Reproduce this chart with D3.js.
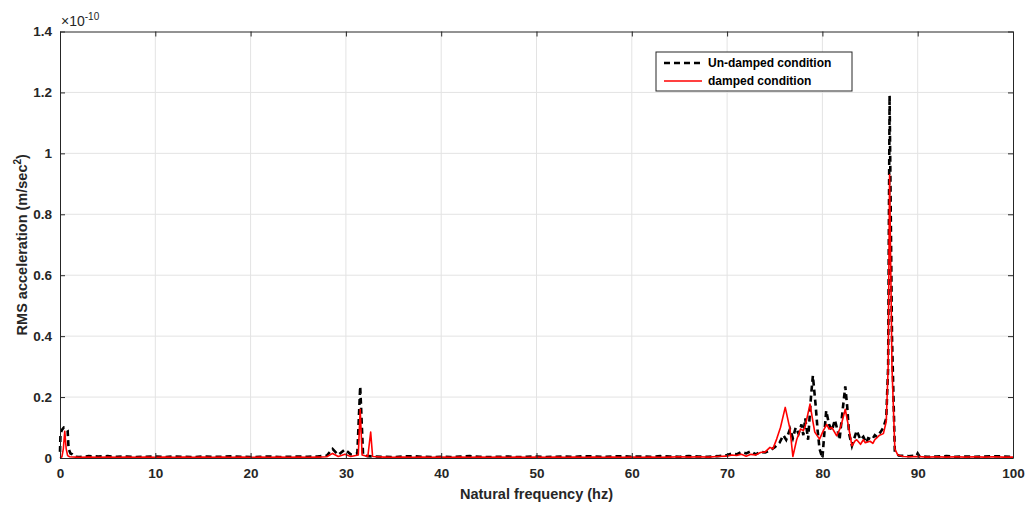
<!DOCTYPE html>
<html>
<head>
<meta charset="utf-8">
<script src="https://cdn.jsdelivr.net/npm/d3@7"></script>
<style>
  body { margin: 0; background: #fff; }
  svg { font-family: "Liberation Sans", Arial, sans-serif; }
</style>
</head>
<body>
<div id="chart"></div>
<script>
// RMS acceleration spectra, values in units of 1e-10 m/sec^2, [hz, value]
const undamped = [
  [0, 0.02], [0.05, 0.08], [0.2, 0.092], [0.4, 0.1], [0.6, 0.098], [0.8, 0.09], [0.9, 0.03], [1.1, 0.015],
  [1.3, 0.012], [1.6, 0.004],
  [2, 0.003], [3, 0.006], [4, 0.005], [5, 0.006], [6, 0.004], [7, 0.005], [8, 0.003], [9, 0.004], [10, 0.005],
  [11, 0.003], [12, 0.005], [13, 0.004], [14, 0.003], [15, 0.005], [16, 0.004], [17, 0.004], [18, 0.006], [19, 0.004],
  [20, 0.003], [21, 0.004], [22, 0.005], [23, 0.003], [24, 0.004], [25, 0.005], [26, 0.004], [27, 0.005], [28, 0.008],
  [28.6, 0.03], [29.2, 0.01], [29.9, 0.028], [30.5, 0.012], [31.2, 0.015], [31.5, 0.235], [31.8, 0.01], [32.3, 0.006],
  [33, 0.005], [34, 0.004], [35, 0.003], [36, 0.005], [37, 0.006], [38, 0.004], [39, 0.003], [40, 0.004],
  [41, 0.003], [42, 0.005], [43, 0.006], [44, 0.004], [45, 0.003], [46, 0.004], [47, 0.005], [48, 0.003],
  [49, 0.004], [50, 0.005], [51, 0.003], [52, 0.004], [53, 0.005], [54, 0.004], [55, 0.006], [56, 0.005],
  [57, 0.004], [58, 0.005], [59, 0.006], [60, 0.004], [61, 0.005], [62, 0.004], [63, 0.006], [64, 0.005],
  [65, 0.004], [66, 0.006], [67, 0.005], [68, 0.004], [69, 0.006],
  [70, 0.01], [70.5, 0.015], [71, 0.012], [71.5, 0.02], [72, 0.015], [72.5, 0.022], [73, 0.012], [73.5, 0.02],
  [74, 0.018], [74.5, 0.025], [75, 0.035], [75.5, 0.05], [75.9, 0.075], [76.2, 0.06], [76.6, 0.095], [76.9, 0.065],
  [77.2, 0.1], [77.5, 0.08], [77.8, 0.11], [78.0, 0.075], [78.2, 0.13], [78.5, 0.06], [78.8, 0.2], [79.0, 0.27],
  [79.3, 0.17], [79.5, 0.09], [79.7, 0.03], [80.0, 0.0], [80.2, 0.08], [80.4, 0.155], [80.7, 0.11], [81.0, 0.09],
  [81.3, 0.125], [81.6, 0.09], [81.8, 0.06], [82.1, 0.15], [82.4, 0.235], [82.6, 0.17], [82.8, 0.08], [83.1, 0.04],
  [83.4, 0.07], [83.6, 0.09], [84.0, 0.06], [84.3, 0.07], [84.6, 0.05], [84.8, 0.065], [85.2, 0.06], [85.5, 0.075],
  [85.7, 0.07], [86.1, 0.085], [86.4, 0.1], [86.7, 0.13],
  [86.9, 0.3], [87.05, 1.19], [87.3, 0.4], [87.6, 0.02], [88, 0.008], [89, 0.006], [89.9, 0.008], [90.0, 0.015],
  [90.2, 0.005], [91, 0.004], [92, 0.005], [93, 0.006], [94, 0.004], [95, 0.005], [96, 0.004], [97, 0.005],
  [98, 0.006], [99, 0.005], [100, 0.004]
];

const damped = [
  [0, 0.0], [0.2, 0.004], [0.35, 0.03], [0.5, 0.088], [0.65, 0.03], [0.8, 0.008], [1.0, 0.004],
  [2, 0.002], [3, 0.003], [4, 0.002], [5, 0.003], [6, 0.002], [7, 0.003], [8, 0.002], [9, 0.003], [10, 0.002],
  [11, 0.003], [12, 0.002], [13, 0.003], [14, 0.002], [15, 0.003], [16, 0.002], [17, 0.003], [18, 0.002],
  [19, 0.003], [20, 0.002], [21, 0.003], [22, 0.002], [23, 0.003], [24, 0.002], [25, 0.003], [26, 0.002],
  [27, 0.003], [28, 0.004], [28.6, 0.015], [29.2, 0.005], [29.9, 0.012], [30.5, 0.005], [31.3, 0.01],
  [31.5, 0.16], [31.7, 0.01], [32.3, 0.005], [32.6, 0.085], [32.8, 0.005],
  [34, 0.003], [35, 0.002], [36, 0.003], [37, 0.002], [38, 0.003], [39, 0.002], [40, 0.003], [41, 0.002],
  [42, 0.003], [43, 0.002], [44, 0.003], [45, 0.002], [46, 0.003], [47, 0.002], [48, 0.003], [49, 0.002],
  [50, 0.003], [51, 0.002], [52, 0.003], [53, 0.002], [54, 0.003], [55, 0.002], [56, 0.003], [57, 0.002],
  [58, 0.003], [59, 0.002], [60, 0.003], [61, 0.002], [62, 0.003], [63, 0.002], [64, 0.003], [65, 0.004],
  [66, 0.003], [67, 0.004], [68, 0.003], [69, 0.005],
  [70, 0.006], [70.5, 0.01], [71, 0.008], [71.5, 0.012], [72, 0.006], [72.5, 0.012], [73, 0.01], [73.5, 0.018],
  [74, 0.02], [74.5, 0.035], [74.8, 0.03], [75.2, 0.062], [75.6, 0.1], [76.1, 0.166], [76.6, 0.095], [76.9, 0.005],
  [77.3, 0.06], [77.7, 0.095], [78.0, 0.09], [78.2, 0.105], [78.7, 0.177], [79.0, 0.12], [79.2, 0.085], [79.7, 0.062],
  [80.1, 0.09], [80.45, 0.11], [80.7, 0.095], [81.0, 0.1], [81.5, 0.073], [81.9, 0.1], [82.4, 0.16], [82.7, 0.11],
  [83.1, 0.04], [83.4, 0.055], [83.6, 0.06], [84.0, 0.045], [84.3, 0.06], [84.5, 0.05], [85.0, 0.055], [85.3, 0.048],
  [85.5, 0.06], [86.0, 0.075], [86.4, 0.08], [86.7, 0.12],
  [86.9, 0.3], [87.05, 0.93], [87.3, 0.3], [87.6, 0.03], [87.9, 0.01], [88.5, 0.005], [89, 0.004], [90, 0.005],
  [91, 0.003], [92, 0.004], [93, 0.003], [94, 0.004], [95, 0.003], [96, 0.004], [97, 0.003], [98, 0.004],
  [99, 0.003], [100, 0.003]
];

const xTicks = [0, 10, 20, 30, 40, 50, 60, 70, 80, 90, 100];
const yTicks = [0, 0.2, 0.4, 0.6, 0.8, 1, 1.2, 1.4];
const seriesNames = ["Un-damped condition", "damped condition"];

const width = 1027, height = 509;
const margin = { top: 31.5, right: 14, bottom: 51, left: 60 };
const innerW = width - margin.left - margin.right;
const innerH = height - margin.top - margin.bottom;
const axisColor = "#262626";

const svg = d3.select("#chart").append("svg")
    .attr("width", width)
    .attr("height", height);

const g = svg.append("g")
    .attr("transform", `translate(${margin.left},${margin.top})`);

const x = d3.scaleLinear().domain([0, 100]).range([0, innerW]);
const y = d3.scaleLinear().domain([0, 1.4]).range([innerH, 0]);

// grid
g.append("g").selectAll("line")
    .data(xTicks.slice(1, -1))
    .enter().append("line")
    .attr("x1", d => x(d)).attr("x2", d => x(d))
    .attr("y1", 0).attr("y2", innerH)
    .attr("stroke", "#e3e3e3");

g.append("g").selectAll("line")
    .data(yTicks.slice(1, -1))
    .enter().append("line")
    .attr("x1", 0).attr("x2", innerW)
    .attr("y1", d => y(d)).attr("y2", d => y(d))
    .attr("stroke", "#e3e3e3");

// lines
const line = d3.line()
    .x(d => x(d[0]))
    .y(d => y(d[1]));

g.append("path")
    .datum(undamped)
    .attr("fill", "none")
    .attr("stroke", "#000")
    .attr("stroke-width", 2.6)
    .attr("stroke-dasharray", "6,4")
    .attr("d", line);

g.append("path")
    .datum(damped)
    .attr("fill", "none")
    .attr("stroke", "#ff0000")
    .attr("stroke-width", 1.6)
    .attr("stroke-linejoin", "round")
    .attr("d", line);

// axes with inward ticks, box on
const tickFmt = d => d === 0 ? "0" : (Number.isInteger(d) ? String(d) : d.toFixed(1));

const styleAxis = sel => {
    sel.select(".domain").attr("stroke", axisColor).attr("stroke-width", 1);
    sel.selectAll(".tick line").attr("stroke", axisColor);
    sel.selectAll(".tick text")
        .attr("fill", axisColor)
        .style("font-size", "13.5px")
        .style("font-weight", "bold");
};

g.append("g")
    .attr("transform", `translate(0,${innerH})`)
    .call(d3.axisBottom(x).tickValues(xTicks).tickFormat(tickFmt).tickSizeInner(-5).tickSizeOuter(0).tickPadding(10))
    .call(styleAxis);

g.append("g")
    .call(d3.axisLeft(y).tickValues(yTicks).tickFormat(tickFmt).tickSizeInner(-5).tickSizeOuter(0).tickPadding(8))
    .call(styleAxis);

g.append("g")
    .call(d3.axisTop(x).tickValues(xTicks).tickFormat("").tickSizeInner(-5).tickSizeOuter(0))
    .call(styleAxis);

g.append("g")
    .attr("transform", `translate(${innerW},0)`)
    .call(d3.axisRight(y).tickValues(yTicks).tickFormat("").tickSizeInner(-5).tickSizeOuter(0))
    .call(styleAxis);

// exponent label
const expo = svg.append("text")
    .attr("x", margin.left + 1)
    .attr("y", 26)
    .attr("fill", axisColor)
    .style("font-size", "14px");
expo.append("tspan").text("\u00d710");
expo.append("tspan").attr("dy", -6).style("font-size", "10px").text("-10");

// axis labels
svg.append("text")
    .attr("x", margin.left + innerW / 2)
    .attr("y", 499)
    .attr("text-anchor", "middle")
    .attr("fill", axisColor)
    .style("font-size", "14.5px")
    .style("font-weight", "bold")
    .text("Natural frequency (hz)");

const yLabel = svg.append("text")
    .attr("transform", `translate(27,${margin.top + innerH / 2}) rotate(-90)`)
    .attr("text-anchor", "middle")
    .attr("fill", axisColor)
    .style("font-size", "14.5px")
    .style("font-weight", "bold");
yLabel.append("tspan").text("RMS acceleration (m/sec");
yLabel.append("tspan").attr("dy", -6).style("font-size", "10px").text("2");
yLabel.append("tspan").attr("dy", 6).text(")");

// legend
const legend = svg.append("g").attr("transform", "translate(656,52)");
legend.append("rect")
    .attr("width", 196).attr("height", 39)
    .attr("fill", "#fff")
    .attr("stroke", axisColor)
    .attr("stroke-width", 1);

const legendStyles = [
    { stroke: "#000", width: 2.6, dash: "6,4" },
    { stroke: "#ff0000", width: 1.6, dash: null }
];

seriesNames.forEach((name, i) => {
    const row = legend.append("g").attr("transform", `translate(0,${11 + i * 18})`);
    row.append("line")
        .attr("x1", 8).attr("x2", 46)
        .attr("stroke", legendStyles[i].stroke)
        .attr("stroke-width", legendStyles[i].width)
        .attr("stroke-dasharray", legendStyles[i].dash);
    row.append("text")
        .attr("x", 52)
        .attr("dy", "0.35em")
        .attr("fill", "#000")
        .style("font-size", "12px")
        .style("font-weight", "bold")
        .text(name);
});
</script>
</body>
</html>
